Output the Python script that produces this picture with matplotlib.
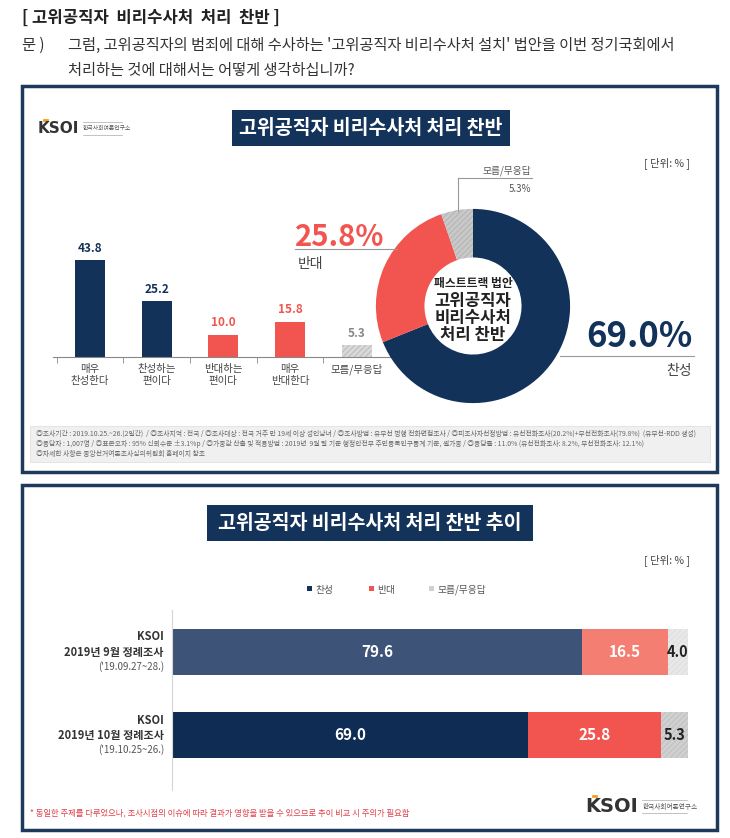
import matplotlib.pyplot as plt
from matplotlib.patches import Rectangle

plt.rcParams['font.family'] = ['Noto Sans CJK KR', 'DejaVu Sans']
plt.rcParams['hatch.linewidth'] = 0.6

# ---- data ----
categories = ['매우\n찬성한다', '찬성하는\n편이다', '반대하는\n편이다', '매우\n반대한다', '모름/무응답']
values = [43.8, 25.2, 10.0, 15.8, 5.3]

donut_labels = ['찬성', '반대', '모름/무응답']
donut_values = [69.0, 25.8, 5.3]

trend_rows = [('KSOI', '2019년 9월 정례조사', "('19.09.27~28.)"),
              ('KSOI', '2019년 10월 정례조사', "('19.10.25~26.)")]
trend_yes = [79.6, 69.0]
trend_no = [16.5, 25.8]
trend_dk = [4.0, 5.3]

# ---- colours ----
NAVY = '#12325a'
RED = '#f2544f'
BORDER = '#1d3a5c'
W, H = 730, 838

fig = plt.figure(figsize=(W / 100, H / 100), dpi=100)
fig.patch.set_facecolor('white')


def fx(x):
    return x / W


def fy(y):
    return 1 - y / H


def txt(x, y, s, **kw):
    kw.setdefault('va', 'center')
    fig.text(fx(x), fy(y), s, **kw)


def box(x0, y0, x1, y1, **kw):
    fig.patches.append(Rectangle((fx(x0), fy(y1)), (x1 - x0) / W, (y1 - y0) / H,
                                 transform=fig.transFigure, **kw))


def hline(x0, x1, y, **kw):
    fig.add_artist(plt.Line2D([fx(x0), fx(x1)], [fy(y), fy(y)], transform=fig.transFigure, **kw))


def vline(x, y0, y1, **kw):
    fig.add_artist(plt.Line2D([fx(x), fx(x)], [fy(y0), fy(y1)], transform=fig.transFigure, **kw))


def make_ax(x0, y0, x1, y1):
    return fig.add_axes([fx(x0), fy(y1), (x1 - x0) / W, (y1 - y0) / H])


def logo(x, y, big=11, small=4.2):
    # KSOI wordmark + small institute name
    txt(x, y, 'KSOI', fontsize=big, fontweight='bold', color='#333333', family='DejaVu Sans')
    hline(x + big * 0.55, x + big * 0.8, y - big * 0.75, color='#f0a020', lw=2)
    sx = x + big * 4.1
    sw = small * 9.2
    txt(sx, y + 1, '한국사회여론연구소', fontsize=small, color='#555555')
    hline(sx, sx + sw, y - 6, color='#aaaaaa', lw=0.5)
    hline(sx, sx + sw, y + 7, color='#aaaaaa', lw=0.5)


# ---- header text ----
txt(22, 18, '[ 고위공직자  비리수사처  처리  찬반 ]', fontsize=12, fontweight='bold', color='#222222')
txt(22, 45, '문 )', fontsize=11, color='#333333')
txt(68, 45, "그럼, 고위공직자의 범죄에 대해 수사하는 '고위공직자 비리수사처 설치' 법안을 이번 정기국회에서",
    fontsize=11, color='#333333')
txt(68, 70, '처리하는 것에 대해서는 어떻게 생각하십니까?', fontsize=11, color='#333333')

# ============ PANEL 1 ============
box(22, 86, 717, 472, facecolor='none', edgecolor=BORDER, lw=2.5)
box(232, 110, 510, 146, facecolor='#14335a', edgecolor='none')
txt(371, 128, '고위공직자 비리수사처 처리 찬반', fontsize=14, color='white', ha='center', fontweight='bold')
logo(38, 128)
txt(690, 163, '[ 단위: % ]', fontsize=7.5, color='#444444', ha='right')

# bar chart
ax = make_ax(53, 230, 390, 357)
bar_colors = [NAVY, NAVY, RED, RED, '#d9d9d9']
label_colors = [NAVY, NAVY, RED, RED, '#888888']
xs = range(len(values))
bars = ax.bar(xs, values, width=0.45, color=bar_colors)
bars[4].set_hatch('//////')
bars[4].set_edgecolor('#b5b5b5')
bars[4].set_linewidth(0)
for b, v, c in zip(bars, values, label_colors):
    ax.annotate(f'{v:.1f}', (b.get_x() + b.get_width() / 2, v), xytext=(0, 4),
                textcoords='offset points', ha='center', va='bottom',
                fontsize=8.5, fontweight='bold', color=c)
ax.set_xlim(-0.555, 4.5)
ax.set_ylim(0, 57.4)
ax.set_xticks(list(xs), labels=categories, fontsize=7.5, color='#444444', linespacing=1.3)
ax.tick_params(axis='x', length=0, pad=5)
ax.set_xticks([-0.5, 0.5, 1.5, 2.5, 3.5], minor=True)
ax.tick_params(axis='x', which='minor', length=4, color='#888888')
ax.set_yticks([])
for s in ['top', 'right', 'left']:
    ax.spines[s].set_visible(False)
ax.spines['bottom'].set_color('#888888')
ax.patch.set_alpha(0)

# donut
dax = make_ax(373, 206, 573, 406)
wedges, _ = dax.pie(donut_values, colors=[NAVY, RED, '#c8c8c8'], startangle=90,
                    counterclock=False, radius=1, wedgeprops=dict(width=0.5, linewidth=0))
wedges[2].set_hatch('//////')
wedges[2].set_edgecolor('#b0b0b0')
dax.set_xlim(-1.03, 1.03)
dax.set_ylim(-1.03, 1.03)
dax.set_aspect('equal')
dax.axis('off')

txt(473, 283, '패스트트랙 법안', fontsize=8.5, fontweight='bold', ha='center', color='#222222')
txt(473, 301, '고위공직자', fontsize=12, fontweight='bold', ha='center', color='#222222')
txt(473, 318, '비리수사처', fontsize=12, fontweight='bold', ha='center', color='#222222')
txt(473, 335, '처리 찬반', fontsize=12, fontweight='bold', ha='center', color='#222222')

# callouts
txt(295, 237, f'{donut_values[1]:.1f}%', fontsize=21, fontweight='bold', color=RED)
hline(295, 397, 249, color='#999999', lw=0.8)
txt(298, 264, donut_labels[1], fontsize=10, color='#444444')

txt(692, 336, f'{donut_values[0]:.1f}%', fontsize=25, fontweight='bold', color=NAVY, ha='right')
hline(560, 694, 356, color='#999999', lw=0.8)
txt(692, 371, donut_labels[0], fontsize=10, color='#444444', ha='right')

vline(458, 178, 211, color='#999999', lw=0.8)
hline(458, 532, 178, color='#999999', lw=0.8)
txt(531, 171, donut_labels[2], fontsize=7, color='#555555', ha='right')
txt(531, 189, f'{donut_values[2]:.1f}%', fontsize=7, color='#555555', ha='right')

# survey info box
box(30, 426, 710, 462, facecolor='#f0f0f0', edgecolor='#dddddd', lw=0.5)
info = [
    '◎조사기간 : 2019.10.25.~26.(2일간)  / ◎조사지역 : 전국 / ◎조사대상 : 전국 거주 만 19세 이상 성인남녀 / ◎조사방법 : 유무선 병행 전화면접조사 / '
    '◎피조사자선정방법 : 유선전화조사(20.2%)+무선전화조사(79.8%)  (유무선-RDD 생성)',
    '◎응답자 : 1,007명 / ◎표본오차 : 95% 신뢰수준 ±3.1%p / ◎가중값 산출 및 적용방법 : 2019년  9월 말 기준 행정안전부 주민등록인구통계 기준, 셀가중 / '
    '◎응답률 : 11.0% (유선전화조사: 8.2%, 무선전화조사: 12.1%)',
    '◎자세한 사항은 중앙선거여론조사심의위원회 홈페이지 참조',
]
for i, line in enumerate(info):
    txt(36, 434 + i * 10, line, fontsize=4.9, color='#666666')

# ============ PANEL 2 ============
box(22, 485, 717, 830, facecolor='none', edgecolor=BORDER, lw=2.5)
box(207, 505, 533, 541, facecolor='#14335a', edgecolor='none')
txt(370, 523, '고위공직자 비리수사처 처리 찬반 추이', fontsize=14, color='white', ha='center', fontweight='bold')
txt(690, 560, '[ 단위: % ]', fontsize=7.5, color='#444444', ha='right')

# legend
for lx, lab, col in [(312, '찬성', NAVY), (374, '반대', RED), (434, '모름/무응답', '#d0d0d0')]:
    box(lx - 5, 586, lx, 591, facecolor=col, edgecolor='none')
    txt(lx + 3, 590, lab, fontsize=7, color='#555555')

# stacked bars
sax = make_ax(172, 610, 700, 790)
ys = range(len(trend_rows))
yes_cols = ['#3d5478', '#0f2d54']
no_cols = ['#f47e72', '#f25450']
dk_cols = ['#e8e8e8', '#d0d0d0']
h = 0.554
sax.barh(ys, trend_yes, height=h, color=yes_cols)
sax.barh(ys, trend_no, left=trend_yes, height=h, color=no_cols)
lefts = [a + b for a, b in zip(trend_yes, trend_no)]
b3 = sax.barh(ys, trend_dk, left=lefts, height=h, color=dk_cols, linewidth=0)
for b in b3:
    b.set_hatch('//////')
    b.set_edgecolor('#bdbdbd')
b3[0].set_edgecolor('#dddddd')
for i in ys:
    sax.text(trend_yes[i] / 2, i, f'{trend_yes[i]:.1f}', ha='center', va='center',
             fontsize=11, fontweight='bold', color='white')
    sax.text(trend_yes[i] + trend_no[i] / 2, i, f'{trend_no[i]:.1f}', ha='center', va='center',
             fontsize=11, fontweight='bold', color='white')
    sax.text(lefts[i] + trend_dk[i] / 2, i, f'{trend_dk[i]:.1f}', ha='center', va='center',
             fontsize=10.5, fontweight='bold', color='#222222')
sax.set_xlim(0, 102.4)
sax.set_ylim(1.663, -0.506)
sax.set_xticks([])
sax.set_yticks([])
for s in ['top', 'right', 'bottom']:
    sax.spines[s].set_visible(False)
sax.spines['left'].set_color('#d5d5d5')
sax.patch.set_alpha(0)

# row labels
for i, (a, b, c) in enumerate(trend_rows):
    yc = 652 + i * 83
    txt(164, yc - 15, a, fontsize=8, fontweight='bold', color='#333333', ha='right')
    txt(164, yc, b, fontsize=8, fontweight='bold', color='#333333', ha='right')
    txt(164, yc + 15, c, fontsize=7, color='#555555', ha='right')

txt(30, 813, '* 동일한 주제를 다루었으나, 조사시점의 이슈에 따라 결과가 영향을 받을 수 있으므로 추이 비교 시 주의가 필요함',
    fontsize=6, color='#e0404a')
logo(585, 806, big=14, small=4.8)

fig.savefig('out.png', dpi=100)
